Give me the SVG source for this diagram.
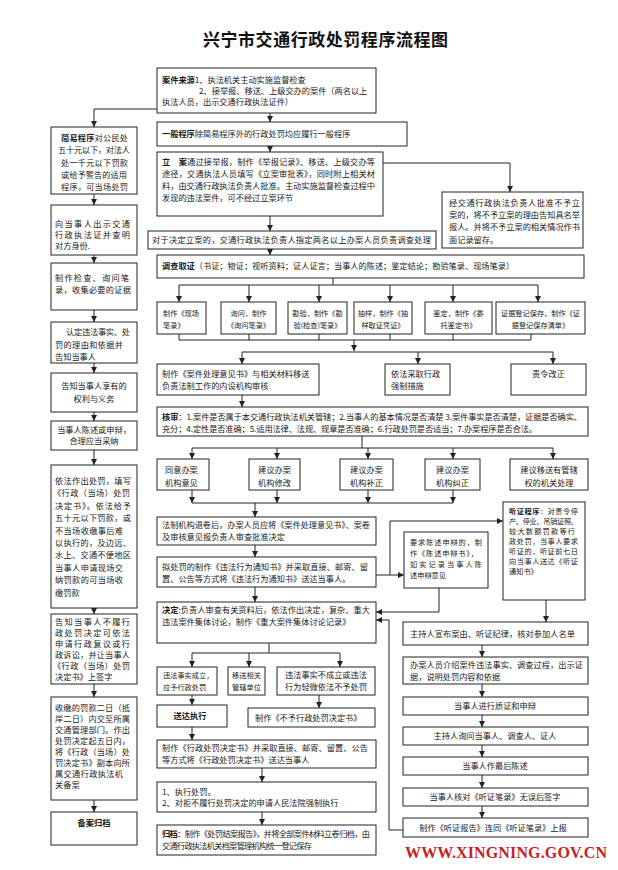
<svg xmlns="http://www.w3.org/2000/svg" width="618" height="870" viewBox="0 0 618 870">
<defs>
<style>
.b{fill:#fff;stroke:#222;stroke-width:1}
.c path{fill:none;stroke:#222;stroke-width:1}
.t{font-family:"Noto Sans CJK SC","Noto Sans",sans-serif;font-size:8.2px;fill:#1a1a1a}
.s{font-size:7.2px}
.m{text-anchor:middle}
.k{font-weight:bold}
.ti{font-family:"Noto Sans CJK SC",sans-serif;font-size:17px;font-weight:bold;fill:#111}
.w{font-family:"Liberation Serif",serif;font-size:16px;font-weight:bold;fill:#c81e1e}
</style>
<marker id="ah" markerWidth="6" markerHeight="6" refX="6" refY="3" orient="auto" markerUnits="userSpaceOnUse"><path d="M0,0 L6,3 L0,6 z" fill="#222"/></marker>
</defs>
<rect width="618" height="870" fill="#fff"/>
<text class="ti" x="203" y="46" textLength="245">兴宁市交通行政处罚程序流程图</text>

<g id="connectors" class="c">
<path d="M94,109 H270"/>
<path d="M94,109 V127" marker-end="url(#ah)"/>
<path d="M270,109 V122" marker-end="url(#ah)"/>
<path d="M270,146 V152" marker-end="url(#ah)"/>
<path d="M270,216 V231" marker-end="url(#ah)"/>
<path d="M383,163 H510 V192" marker-end="url(#ah)"/>
<path d="M270,249 V255" marker-end="url(#ah)"/>
<path d="M333,278 V285 M179,285 H538"/>
<path d="M179,285 V302" marker-end="url(#ah)"/>
<path d="M249,285 V302" marker-end="url(#ah)"/>
<path d="M319,285 V302" marker-end="url(#ah)"/>
<path d="M390,285 V302" marker-end="url(#ah)"/>
<path d="M453,285 V302" marker-end="url(#ah)"/>
<path d="M538,285 V302" marker-end="url(#ah)"/>
<path d="M179,334 V340 M249,334 V340 M319,334 V340 M390,334 V340 M453,334 V340 M531,334 V340 M179,340 H531"/>
<path d="M354,340 V351" marker-end="url(#ah)"/>
<path d="M242,352 H553"/>
<path d="M242,352 V364" marker-end="url(#ah)"/>
<path d="M418,352 V364" marker-end="url(#ah)"/>
<path d="M553,352 V364" marker-end="url(#ah)"/>
<path d="M242,395 V407" marker-end="url(#ah)"/>
<path d="M362,436 V448 M192,448 H553"/>
<path d="M192,448 V459" marker-end="url(#ah)"/>
<path d="M277,448 V459" marker-end="url(#ah)"/>
<path d="M368,448 V459" marker-end="url(#ah)"/>
<path d="M453,448 V459" marker-end="url(#ah)"/>
<path d="M553,448 V459" marker-end="url(#ah)"/>
<path d="M192,490 V503" marker-end="url(#ah)"/>
<path d="M277,490 V503" marker-end="url(#ah)"/>
<path d="M368,490 V503" marker-end="url(#ah)"/>
<path d="M453,490 V503" marker-end="url(#ah)"/>
<path d="M192,503 H453"/>
<path d="M255,503 V517" marker-end="url(#ah)"/>
<path d="M255,545 V557" marker-end="url(#ah)"/>
<path d="M376,575 H404" marker-end="url(#ah)"/>
<path d="M390,575 V521 H503" marker-end="url(#ah)"/>
<path d="M255,587 V602" marker-end="url(#ah)"/>
<path d="M439,588 V612 H376" marker-end="url(#ah)"/>
<path d="M546,600 V622" marker-end="url(#ah)"/>
<path d="M403,830 H389 V620 H376" marker-end="url(#ah)"/>
<path d="M269,643 V653 M192,653 H340"/>
<path d="M192,653 V667" marker-end="url(#ah)"/>
<path d="M249,653 V667" marker-end="url(#ah)"/>
<path d="M340,653 V667" marker-end="url(#ah)"/>
<path d="M192,695 V705" marker-end="url(#ah)"/>
<path d="M319,695 V708" marker-end="url(#ah)"/>
<path d="M192,727 V740" marker-end="url(#ah)"/>
<path d="M262,768 V782" marker-end="url(#ah)"/>
<path d="M262,812 V825" marker-end="url(#ah)"/>
<path d="M482,645 V657" marker-end="url(#ah)"/>
<path d="M482,684 V697" marker-end="url(#ah)"/>
<path d="M482,715 V727" marker-end="url(#ah)"/>
<path d="M482,745 V757" marker-end="url(#ah)"/>
<path d="M482,775 V788" marker-end="url(#ah)"/>
<path d="M482,806 V818" marker-end="url(#ah)"/>
<path d="M94,194 V205" marker-end="url(#ah)"/>
<path d="M94,255 V263" marker-end="url(#ah)"/>
<path d="M94,310 V322" marker-end="url(#ah)"/>
<path d="M94,363 V373" marker-end="url(#ah)"/>
<path d="M94,412 V421" marker-end="url(#ah)"/>
<path d="M94,450 V465" marker-end="url(#ah)"/>
<path d="M94,608 V614" marker-end="url(#ah)"/>
<path d="M94,684 V697" marker-end="url(#ah)"/>
<path d="M94,800 V812" marker-end="url(#ah)"/>
</g>

<g id="source">
<rect class="b" x="157" y="68" width="219" height="45"/>
<text class="t" x="162" y="83"><tspan class="k">案件来源</tspan>1、执法机关主动实施监督检查</text>
<text class="t" x="199" y="94">2、接举报、移送、上级交办的案件（两名以上</text>
<text class="t" x="162" y="105">执法人员，出示交通行政执法证件）</text>
</g>
<g id="general">
<rect class="b" x="157" y="122" width="250" height="24"/>
<text class="t" x="162" y="137"><tspan class="k">一般程序</tspan>除简易程序外的行政处罚均应履行一般程序</text>
</g>
<g id="filing">
<rect class="b" x="157" y="152" width="226" height="64"/>
<text class="t" x="162" y="165" textLength="213"><tspan class="k">立　案</tspan>通过接举报，制作《举报记录》、移送、上级交办等</text>
<text class="t" x="162" y="177" textLength="213">途径，交通执法人员填写《立案审批表》，同时附上相关材</text>
<text class="t" x="162" y="189" textLength="213">料，由交通行政执法负责人批准。主动实施监督检查过程中</text>
<text class="t" x="162" y="201">发现的违法案件，可不经过立案环节</text>
</g>
<g id="nofiling">
<rect class="b" x="442" y="192" width="141" height="56"/>
<text class="t" x="449" y="206" textLength="131">经交通行政执法负责人批准不予立</text>
<text class="t" x="449" y="218" textLength="131">案的，将不予立案的理由告知具名举</text>
<text class="t" x="449" y="230" textLength="131">报人。并将不予立案的相关情况作书</text>
<text class="t" x="449" y="243">面记录留存。</text>
</g>
<g id="assign">
<rect class="b" x="148" y="231" width="288" height="18"/>
<text class="t" x="152" y="243" textLength="279">对于决定立案的，交通行政执法负责人指定两名以上办案人员负责调查处理</text>
</g>
<g id="investigate">
<rect class="b" x="157" y="255" width="427" height="23"/>
<text class="t" x="162" y="269"><tspan class="k">调查取证</tspan>（书证；物证；视听资料；证人证言；当事人的陈述；鉴定结论；勘验笔录、现场笔录）</text>
</g>
<g id="ev1">
<rect class="b" x="157" y="302" width="49" height="32"/>
<text class="t s" x="163" y="316">制作《现场</text>
<text class="t s" x="163" y="328">笔录》</text>
</g>
<g id="ev2">
<rect class="b" x="221" y="302" width="55" height="32"/>
<text class="t s m" x="248.5" y="316">询问，制作</text>
<text class="t s m" x="248.5" y="328">《询问笔录》</text>
</g>
<g id="ev3">
<rect class="b" x="288" y="302" width="59" height="32"/>
<text class="t s m" x="317.5" y="316">勘验，制作《勘</text>
<text class="t s m" x="317.5" y="328">验(检查)笔录》</text>
</g>
<g id="ev4">
<rect class="b" x="354" y="302" width="58" height="32"/>
<text class="t s m" x="383" y="316">抽样，制作《抽</text>
<text class="t s m" x="383" y="328">样取证凭证》</text>
</g>
<g id="ev5">
<rect class="b" x="425" y="302" width="67" height="32"/>
<text class="t s m" x="458.5" y="316">鉴定，制作《委</text>
<text class="t s m" x="458.5" y="328">托鉴定书》</text>
</g>
<g id="ev6">
<rect class="b" x="496" y="302" width="89" height="32"/>
<text class="t s m" x="540.5" y="316">证据登记保存，制作《证</text>
<text class="t s m" x="540.5" y="328">据登记保存清单》</text>
</g>
<g id="opinion">
<rect class="b" x="157" y="364" width="162" height="31"/>
<text class="t" x="162" y="377">制作《案件处理意见书》与相关材料移送</text>
<text class="t" x="162" y="389">负责法制工作的内设机构审核</text>
</g>
<g id="force">
<rect class="b" x="385" y="364" width="65" height="31"/>
<text class="t" x="391" y="377">依法采取行政</text>
<text class="t" x="391" y="389">强制措施</text>
</g>
<g id="correct">
<rect class="b" x="511" y="364" width="75" height="31"/>
<text class="t m" x="548.5" y="377">责令改正</text>
</g>
<g id="review">
<rect class="b" x="157" y="407" width="431" height="29"/>
<text class="t" x="162" y="420" textLength="420"><tspan class="k">核审</tspan>：1.案件是否属于本交通行政执法机关管辖；2.当事人的基本情况是否清楚 3.案件事实是否清楚，证据是否确实、</text>
<text class="t" x="162" y="432" textLength="375">充分；4.定性是否准确；5.适用法律、法规、规章是否准确；6.行政处罚是否适当；7.办案程序是否合法。</text>
</g>
<g id="agree">
<rect class="b" x="157" y="459" width="52" height="31"/>
<text class="t" x="165" y="473">同意办案</text>
<text class="t" x="165" y="486">机构意见</text>
</g>
<g id="modify">
<rect class="b" x="249" y="459" width="51" height="31"/>
<text class="t m" x="274.5" y="473">建议办案</text>
<text class="t m" x="274.5" y="486">机构修改</text>
</g>
<g id="supplement">
<rect class="b" x="340" y="459" width="53" height="31"/>
<text class="t m" x="366.5" y="473">建议办案</text>
<text class="t m" x="366.5" y="486">机构补正</text>
</g>
<g id="rectify">
<rect class="b" x="425" y="459" width="55" height="31"/>
<text class="t m" x="452.5" y="473">建议办案</text>
<text class="t m" x="452.5" y="486">机构纠正</text>
</g>
<g id="transfer">
<rect class="b" x="510" y="459" width="78" height="31"/>
<text class="t m" x="549" y="473">建议移送有管辖</text>
<text class="t m" x="549" y="486">权的机关处理</text>
</g>
<g id="approve">
<rect class="b" x="157" y="517" width="219" height="28"/>
<text class="t" x="162" y="528" textLength="208">法制机构退卷后，办案人员应将《案件处理意见书》、案卷</text>
<text class="t" x="162" y="540">及审核意见报负责人审查批准决定</text>
</g>
<g id="notice">
<rect class="b" x="157" y="557" width="219" height="30"/>
<text class="t" x="162" y="570" textLength="206">拟处罚的制作《违法行为通知书》并采取直接、邮寄、留</text>
<text class="t" x="162" y="582">置、公告等方式将《违法行为通知书》送达当事人。</text>
</g>
<g id="defense">
<rect class="b" x="404" y="532" width="84" height="56"/>
<text class="t s" x="410" y="545" textLength="72">要求陈述申辩的，制</text>
<text class="t s" x="410" y="556" textLength="68">作《陈述申辩书》，</text>
<text class="t s" x="410" y="567" textLength="72">如实记录当事人陈</text>
<text class="t s" x="410" y="578">述申辩意见</text>
</g>
<g id="hearing">
<rect class="b" x="503" y="502" width="82" height="98"/>
<text class="t s" x="509" y="514" textLength="69"><tspan class="k">听证程序</tspan>：对责令停</text>
<text class="t s" x="509" y="524" textLength="69">产、停业、吊销证照、</text>
<text class="t s" x="509" y="534" textLength="66">较大数额罚款等行</text>
<text class="t s" x="509" y="544" textLength="69">政处罚，当事人要求</text>
<text class="t s" x="509" y="554" textLength="69">听证的，听证前七日</text>
<text class="t s" x="509" y="564" textLength="69">向当事人送达《听证</text>
<text class="t s" x="509" y="574">通知书》</text>
</g>
<g id="decision">
<rect class="b" x="157" y="602" width="219" height="41"/>
<text class="t" x="162" y="613" textLength="208"><tspan class="k">决定</tspan>:负责人审查有关资料后，依法作出决定，复杂、重大</text>
<text class="t" x="162" y="625">违法案件集体讨论，制作《重大案件集体讨论记录》</text>
</g>
<g id="established">
<rect class="b" x="157" y="667" width="60" height="28"/>
<text class="t s" x="163" y="678">违法事实成立，</text>
<text class="t s" x="163" y="690">应予行政处罚</text>
</g>
<g id="move">
<rect class="b" x="228" y="667" width="37" height="28"/>
<text class="t s m" x="246.5" y="678">移送相关</text>
<text class="t s m" x="246.5" y="690">管辖单位</text>
</g>
<g id="notestablished">
<rect class="b" x="277" y="667" width="98" height="28"/>
<text class="t m" x="326" y="678">违法事实不成立或违法</text>
<text class="t m" x="326" y="690">行为轻微依法不予处罚</text>
</g>
<g id="nopenalty">
<rect class="b" x="248" y="708" width="127" height="19"/>
<text class="t" x="255" y="721">制作《不予行政处罚决定书》</text>
</g>
<g id="deliver">
<rect class="b" x="157" y="705" width="70" height="22"/>
<text class="t k m" x="190" y="719">送达执行</text>
</g>
<g id="penaltydoc">
<rect class="b" x="157" y="740" width="219" height="28"/>
<text class="t" x="162" y="751" textLength="206">制作《行政处罚决定书》并采取直接、邮寄、留置、公告</text>
<text class="t" x="162" y="763">等方式将《行政处罚决定书》送达当事人</text>
</g>
<g id="execute">
<rect class="b" x="157" y="782" width="219" height="30"/>
<text class="t" x="162" y="795">1、执行处罚。</text>
<text class="t" x="162" y="806">2、对拒不履行处罚决定的申请人民法院强制执行</text>
</g>
<g id="archive">
<rect class="b" x="157" y="825" width="219" height="30"/>
<text class="t" x="162" y="837" textLength="208"><tspan class="k">归档</tspan>：制作《处罚结案报告》，并将全部案件材料立卷归档，由</text>
<text class="t" x="162" y="849" textLength="150">交通行政执法机关档案管理机构统一登记保存</text>
</g>

<g id="h1">
<rect class="b" x="403" y="622" width="185" height="23"/>
<text class="t" x="410" y="637" textLength="165">主持人宣布案由、听证纪律，核对参加人名单</text>
</g>
<g id="h2">
<rect class="b" x="403" y="657" width="185" height="27"/>
<text class="t" x="410" y="668" textLength="173">办案人员介绍案件违法事实、调查过程，出示证</text>
<text class="t" x="410" y="680">据，说明处罚内容和依据</text>
</g>
<g id="h3">
<rect class="b" x="403" y="697" width="185" height="18"/>
<text class="t m" x="495" y="709">当事人进行质证和申辩</text>
</g>
<g id="h4">
<rect class="b" x="403" y="727" width="185" height="18"/>
<text class="t m" x="495" y="739">主持人询问当事人、调查人、证人</text>
</g>
<g id="h5">
<rect class="b" x="403" y="757" width="185" height="18"/>
<text class="t m" x="495" y="769">当事人作最后陈述</text>
</g>
<g id="h6">
<rect class="b" x="403" y="788" width="185" height="18"/>
<text class="t m" x="495" y="800">当事人核对《听证笔录》无误后签字</text>
</g>
<g id="h7">
<rect class="b" x="403" y="818" width="185" height="19"/>
<text class="t m" x="493" y="831">制作《听证报告》连同《听证笔录》上报</text>
</g>

<g id="simple">
<rect class="b" x="51" y="127" width="86" height="67"/>
<text class="t" x="61" y="141" textLength="67"><tspan class="k">简易程序</tspan>对公民处</text>
<text class="t" x="58" y="153" textLength="72">五十元以下，对法人</text>
<text class="t" x="61" y="166" textLength="67">处一千元以下罚款</text>
<text class="t" x="61" y="178" textLength="66">或给予警告的适用</text>
<text class="t" x="61" y="190" textLength="67">程序，可当场处罚</text>
</g>
<g id="l2">
<rect class="b" x="51" y="205" width="86" height="50"/>
<text class="t" x="55" y="227" textLength="75">向当事人出示交通</text>
<text class="t" x="55" y="238" textLength="75">行政执法证并查明</text>
<text class="t" x="55" y="249">对方身份.</text>
</g>
<g id="l3">
<rect class="b" x="51" y="263" width="86" height="47"/>
<text class="t" x="55" y="281" textLength="74">制作检查、询问笔</text>
<text class="t" x="55" y="293" textLength="76">录，收集必要的证据</text>
</g>
<g id="l4">
<rect class="b" x="51" y="322" width="86" height="41"/>
<text class="t" x="66" y="335" textLength="64">认定违法事实、处</text>
<text class="t" x="55" y="348" textLength="68">罚的理由和依据并</text>
<text class="t" x="55" y="360">告知当事人</text>
</g>
<g id="l5">
<rect class="b" x="51" y="373" width="86" height="39"/>
<text class="t m" x="94" y="389">告知当事人享有的</text>
<text class="t m" x="94" y="402">权利与义务</text>
</g>
<g id="l6">
<rect class="b" x="51" y="421" width="86" height="29"/>
<text class="t m" x="94" y="433">当事人陈述或申辩，</text>
<text class="t m" x="94" y="444">合理应当采纳</text>
</g>
<g id="l7">
<rect class="b" x="51" y="465" width="86" height="143"/>
<text class="t" x="55" y="484" textLength="76">依法作出处罚，填写</text>
<text class="t" x="53" y="496" textLength="77">《行政（当场）处罚</text>
<text class="t" x="55" y="509" textLength="76">决定书》。依法给予</text>
<text class="t" x="55" y="521" textLength="76">五十元以下罚款，或</text>
<text class="t" x="55" y="534" textLength="68">不当场收缴事后难</text>
<text class="t" x="55" y="546" textLength="76">以执行的，及边远、</text>
<text class="t" x="55" y="558" textLength="76">水上、交通不便地区</text>
<text class="t" x="55" y="571" textLength="68">当事人申请现场交</text>
<text class="t" x="55" y="583" textLength="68">纳罚款的可当场收</text>
<text class="t" x="55" y="596">缴罚款</text>
</g>
<g id="l8">
<rect class="b" x="51" y="614" width="86" height="70"/>
<text class="t" x="55" y="625" textLength="75">告知当事人不履行</text>
<text class="t" x="55" y="636" textLength="75">政处罚决定可依法</text>
<text class="t" x="55" y="647" textLength="75">申请行政复议或行</text>
<text class="t" x="55" y="658" textLength="75">政诉讼，并让当事人</text>
<text class="t" x="53" y="669" textLength="77">《行政（当场）处罚</text>
<text class="t" x="55" y="680">决定书》上签字</text>
</g>
<g id="l9">
<rect class="b" x="51" y="697" width="86" height="103"/>
<text class="t" x="55" y="711" textLength="75">收缴的罚款二日（抵</text>
<text class="t" x="55" y="722" textLength="75">岸二日）内交至所属</text>
<text class="t" x="55" y="733" textLength="75">交通管理部门。作出</text>
<text class="t" x="55" y="744" textLength="75">处罚决定起五日内，</text>
<text class="t" x="55" y="755" textLength="75">将《行政（当场）处</text>
<text class="t" x="55" y="766" textLength="75">罚决定书》副本向所</text>
<text class="t" x="55" y="777" textLength="68">属交通行政执法机</text>
<text class="t" x="55" y="788">关备案</text>
</g>
<g id="l10">
<rect class="b" x="51" y="812" width="86" height="33"/>
<text class="t k m" x="94" y="826">备案归档</text>
</g>

<text class="w" x="405" y="858" textLength="202">WWW.XINGNING.GOV.CN</text>
</svg>
